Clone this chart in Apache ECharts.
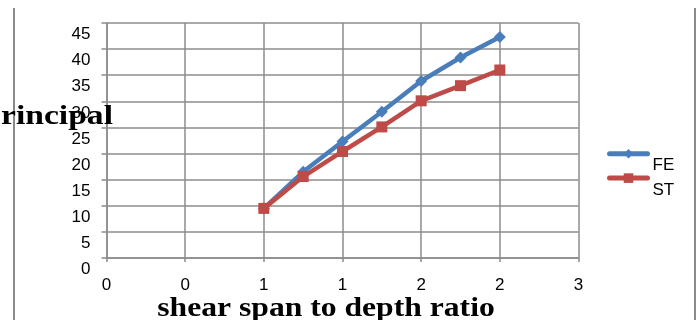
<!DOCTYPE html>
<html><head><meta charset="utf-8">
<script src="https://cdn.jsdelivr.net/npm/echarts@6/dist/echarts.min.js"></script>
<style>html,body{margin:0;padding:0;background:#fff}#c{width:699px;height:320px}</style>
</head><body><div id="c"></div>
<script>
const xValues = [1, 1.25, 1.5, 1.75, 2, 2.25, 2.5];
const feValues = [9.5, 16.5, 22.3, 28.0, 33.9, 38.4, 42.3];
const stValues = [9.5, 15.6, 20.4, 25.1, 30.1, 33.0, 36.0];
const xTickLabels = ['0', '0', '1', '1', '2', '2', '3'];
const yTickLabels = ['0', '5', '10', '15', '20', '25', '30', '35', '40', '45'];
const seriesNames = ['FE', 'ST'];
const yTitle = 'principal';
const xTitle = 'shear span to depth ratio';

const gridColor = '#8c8c8c';
const labelFont = 'Liberation Sans';
const chart = echarts.init(document.getElementById('c'));
chart.setOption({
  animation: false,
  backgroundColor: '#ffffff',
  grid: { left: 106.5, right: 120.5, top: 23, bottom: 62, containLabel: false },
  xAxis: {
    type: 'value', min: 0, max: 3, interval: 0.5,
    axisLine: { show: true, lineStyle: { color: gridColor, width: 1.5 } },
    axisTick: { show: true, length: 4, lineStyle: { color: gridColor, width: 1.5 } },
    splitLine: { show: true, lineStyle: { color: gridColor, width: 1.5 } },
    axisLabel: {
      margin: 19, color: '#000', fontFamily: labelFont, fontSize: 17,
      formatter: function (v) { return xTickLabels[Math.round(v / 0.5)]; }
    }
  },
  yAxis: {
    type: 'value', min: 0, max: 45, interval: 5,
    axisLine: { show: true, lineStyle: { color: gridColor, width: 1.5 } },
    axisTick: { show: true, length: 5, lineStyle: { color: gridColor, width: 1.5 } },
    splitLine: { show: true, lineStyle: { color: gridColor, width: 1.5 } },
    axisLabel: {
      margin: 16, color: '#000', fontFamily: labelFont, fontSize: 17,
      verticalAlign: 'top', padding: [3, 0, 0, 0],
      formatter: function (v) { return yTickLabels[Math.round(v / 5)]; }
    }
  },
  legend: {
    orient: 'vertical', left: 607, top: 149, padding: 0,
    itemWidth: 38, itemHeight: 12, itemGap: -1,
    data: seriesNames,
    lineStyle: { width: 5, cap: 'round' },
    formatter: '{t|{name}}',
    textStyle: {
      color: '#000', fontFamily: labelFont, fontSize: 17,
      rich: { t: { color: '#000', fontFamily: labelFont, fontSize: 17, padding: [24, 0, 0, 0] } }
    }
  },
  series: [
    {
      name: seriesNames[0], type: 'line',
      data: xValues.map((x, i) => [x, feValues[i]]),
      symbol: 'diamond', symbolSize: 12,
      lineStyle: { color: '#4A7EBB', width: 4.5 },
      itemStyle: { color: '#4A7EBB' }
    },
    {
      name: seriesNames[1], type: 'line',
      data: xValues.map((x, i) => [x, stValues[i]]),
      symbol: 'rect', symbolSize: 11,
      lineStyle: { color: '#BE4B48', width: 4.5 },
      itemStyle: { color: '#BE4B48' }
    }
  ],
  graphic: [
    { type: 'line', shape: { x1: 14, y1: 8, x2: 14, y2: 320 }, style: { stroke: '#8a8a8a', lineWidth: 2 } },
    { type: 'line', shape: { x1: 695, y1: 8, x2: 695, y2: 320 }, style: { stroke: '#8a8a8a', lineWidth: 2 } },
    {
      type: 'text', x: 113, y: 131, scaleX: 1.2, z: 10,
      style: { text: yTitle, fontFamily: 'Liberation Serif', fontWeight: 'bold', fontSize: 28,
               fill: '#000', textAlign: 'right', textVerticalAlign: 'bottom' }
    },
    {
      type: 'text', x: 326, y: 323, scaleX: 1.13, z: 10,
      style: { text: xTitle, fontFamily: 'Liberation Serif', fontWeight: 'bold', fontSize: 28,
               fill: '#000', textAlign: 'center', textVerticalAlign: 'bottom' }
    }
  ]
});
</script></body></html>
